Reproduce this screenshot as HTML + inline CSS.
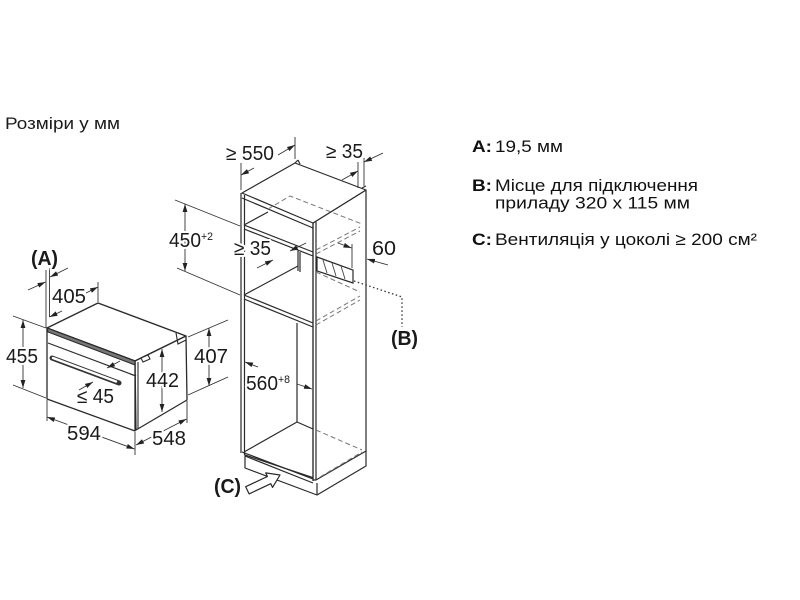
<!DOCTYPE html>
<html><head><meta charset="utf-8">
<style>
html,body{margin:0;padding:0;background:#fff;}
body{width:800px;height:600px;overflow:hidden;position:relative;}
svg{position:absolute;left:0;top:0;}
text{font-family:"Liberation Sans",Arial,sans-serif;fill:#1a1a1a;}
.d{font-size:20px;stroke:#fff;stroke-width:4px;paint-order:stroke;stroke-linejoin:round;}
.db{font-size:20px;font-weight:bold;stroke:#fff;stroke-width:4px;paint-order:stroke;stroke-linejoin:round;}
.sup{font-size:11px;stroke:#fff;stroke-width:3px;paint-order:stroke;}
.r{font-size:17px;fill:#111;}
.b{font-size:17px;font-weight:bold;fill:#111;}
</style></head><body>
<svg width="800" height="600" viewBox="0 0 800 600" xmlns="http://www.w3.org/2000/svg">
<defs>
<marker id="ar" viewBox="0 0 10 6" refX="10" refY="3" markerWidth="8" markerHeight="5" markerUnits="userSpaceOnUse" orient="auto-start-reverse"><path d="M0,0 L10,3 L0,6 z" fill="#222"/></marker>
</defs>

<!-- Title -->
<text x="5" y="129" style="font-size:17px" textLength="115" lengthAdjust="spacingAndGlyphs">Розміри у мм</text>

<!-- Right legend -->
<text class="b" x="472" y="152" textLength="20" lengthAdjust="spacingAndGlyphs">A:</text>
<text class="r" x="495" y="152" textLength="68" lengthAdjust="spacingAndGlyphs">19,5 мм</text>
<text class="b" x="472" y="191" textLength="20" lengthAdjust="spacingAndGlyphs">B:</text>
<text class="r" x="495" y="191" textLength="203" lengthAdjust="spacingAndGlyphs">Місце для підключення</text>
<text class="r" x="495" y="208.5" textLength="195" lengthAdjust="spacingAndGlyphs">приладу 320 x 115 мм</text>
<text class="b" x="472" y="245" textLength="20" lengthAdjust="spacingAndGlyphs">C:</text>
<text class="r" x="495" y="245" textLength="262" lengthAdjust="spacingAndGlyphs">Вентиляція у цоколі ≥ 200 см²</text>

<!-- ================= OVEN ================= -->
<g stroke="#2a2a2a" stroke-width="1.3" fill="#fff" stroke-linejoin="round">
  <polygon points="47,328 98,303 186,336 135,361"/>
  <polygon points="135,361 186,336 187,400 136,430"/>
  <polygon points="47,328 135,361 135,431 47,399"/>
</g>
<g stroke="#2a2a2a" stroke-width="1.1" fill="none">
  <polygon points="47,328 135,361 135,365 48,332" fill="#777"/>
  <line x1="48" y1="343" x2="136" y2="376"/>
  <line x1="138" y1="362" x2="138" y2="429"/>
  <polyline points="130,374 136,376"/>
  <polyline points="176,333 178,344 186,340"/>
  <polygon points="141,358 148,355 150,359 143,362" fill="#fff"/>
</g>
<line x1="52" y1="358" x2="119" y2="383" stroke="#333" stroke-width="5" stroke-linecap="round"/>
<line x1="53" y1="358" x2="116" y2="381.5" stroke="#fff" stroke-width="2.4" stroke-linecap="round"/>

<!-- Oven dimensions -->
<g stroke="#333" stroke-width="0.9" fill="none">
  <line x1="46" y1="270" x2="46" y2="328"/>
  <line x1="49.5" y1="268" x2="49.5" y2="317"/>
  <line x1="28" y1="290" x2="45.5" y2="282" marker-end="url(#ar)"/>
  <line x1="68" y1="268" x2="50" y2="277" marker-end="url(#ar)"/>
  <line x1="98" y1="282" x2="98" y2="302"/>
  <line x1="62" y1="311" x2="49.5" y2="317" marker-end="url(#ar)"/>
  <line x1="86" y1="293" x2="98" y2="287" marker-end="url(#ar)"/>
  <line x1="13" y1="316" x2="46" y2="328"/>
  <line x1="13" y1="385" x2="46" y2="398"/>
  <line x1="23" y1="320" x2="23" y2="388" marker-start="url(#ar)" marker-end="url(#ar)"/>
  <line x1="47" y1="400" x2="47" y2="421"/>
  <line x1="135" y1="432" x2="135" y2="455"/>
  <line x1="47" y1="417" x2="134.5" y2="449" marker-start="url(#ar)" marker-end="url(#ar)"/>
  <line x1="187" y1="401" x2="187" y2="423"/>
  <line x1="136" y1="445" x2="186.5" y2="419" marker-start="url(#ar)" marker-end="url(#ar)"/>
  <line x1="188" y1="337" x2="228" y2="320"/>
  <line x1="188" y1="395" x2="228" y2="377"/>
  <line x1="209" y1="328" x2="209" y2="386" marker-start="url(#ar)" marker-end="url(#ar)"/>
  <line x1="162" y1="349" x2="162" y2="412" marker-start="url(#ar)" marker-end="url(#ar)"/>
  <line x1="120" y1="361" x2="107" y2="368" marker-end="url(#ar)"/>
  <line x1="79" y1="390" x2="93" y2="382" marker-end="url(#ar)"/>
</g>
<text class="db" x="31" y="265" textLength="27" lengthAdjust="spacingAndGlyphs">(A)</text>
<text class="d" x="52" y="303" textLength="34" lengthAdjust="spacingAndGlyphs">405</text>
<text class="d" x="6" y="363" textLength="32" lengthAdjust="spacingAndGlyphs">455</text>
<text class="d" x="67" y="440" textLength="34" lengthAdjust="spacingAndGlyphs">594</text>
<text class="d" x="152" y="445" textLength="34" lengthAdjust="spacingAndGlyphs">548</text>
<text class="d" x="194" y="363" textLength="34" lengthAdjust="spacingAndGlyphs">407</text>
<text class="d" x="146" y="387" textLength="33" lengthAdjust="spacingAndGlyphs">442</text>
<text class="d" x="77" y="403" textLength="37" lengthAdjust="spacingAndGlyphs">≤ 45</text>

<!-- ================= CABINET ================= -->
<g stroke="#2a2a2a" stroke-width="1.2" fill="#fff" stroke-linejoin="round">
  <polygon points="245,455 245,468 317,495 366,466 366,450 317,479"/>
  <polygon points="313,223 366,190 366,451 316,480 313,480"/>
  <polygon points="242,193 295,163 366,190 313,223"/>
</g>
<g stroke="#2a2a2a" stroke-width="1.2" fill="none">
  <line x1="317" y1="483" x2="317" y2="495"/>
  <line x1="241" y1="193" x2="241" y2="453"/>
  <line x1="244.5" y1="195" x2="244.5" y2="455"/>
  <line x1="313" y1="223" x2="313" y2="481"/>
  <line x1="316" y1="222" x2="316" y2="480"/>
  <line x1="295" y1="163" x2="298" y2="160"/><line x1="298" y1="160" x2="300" y2="164"/>
  <line x1="362" y1="188" x2="366" y2="186"/>
  <line x1="242" y1="198" x2="313" y2="228"/>
  <line x1="244" y1="225" x2="313" y2="252"/>
  <line x1="244" y1="229" x2="313" y2="256"/>
  <line x1="244" y1="225" x2="268" y2="212"/>
  <line x1="298" y1="251" x2="298" y2="271"/>
  <line x1="300" y1="252" x2="300" y2="272"/>
  <line x1="244" y1="295" x2="313" y2="323"/>
  <line x1="244" y1="299" x2="313" y2="327"/>
  <line x1="244" y1="295" x2="298" y2="266"/>
  <line x1="297" y1="323" x2="297" y2="422"/>
  <line x1="244" y1="452" x2="297" y2="422"/>
  <line x1="297" y1="422" x2="313" y2="429"/>
  <line x1="242" y1="452" x2="313" y2="479"/>
  <line x1="245" y1="456" x2="313" y2="483"/>
</g>
<g stroke="#777" stroke-width="1" fill="none" stroke-dasharray="5,3">
  <polyline points="268,209 290,196 362,224"/>
  <line x1="316" y1="250" x2="360" y2="227"/>
  <line x1="316" y1="254" x2="360" y2="231"/>
  <line x1="316" y1="272" x2="360" y2="292"/>
  <line x1="316" y1="321" x2="360" y2="296"/>
  <line x1="316" y1="325" x2="360" y2="300"/>
  <line x1="316" y1="430" x2="362" y2="450"/>
  <line x1="320" y1="477" x2="362" y2="452"/>
</g>
<polygon points="317,257 353,270 353,283 317,271" fill="#fff" stroke="#2a2a2a" stroke-width="1.2"/>
<g stroke="#444" stroke-width="0.9">
  <line x1="323" y1="260" x2="327" y2="273"/>
  <line x1="332" y1="263" x2="336" y2="276"/>
  <line x1="341" y1="266" x2="345" y2="279"/>
</g>
<polyline points="354,281 402,297 402,327" fill="none" stroke="#333" stroke-width="1.3" stroke-dasharray="1.5,2.5"/>

<g stroke="#333" stroke-width="0.9" fill="none">
  <line x1="175" y1="200" x2="240" y2="226"/>
  <line x1="177" y1="268" x2="240" y2="295"/>
  <line x1="185" y1="204" x2="185" y2="271" marker-start="url(#ar)" marker-end="url(#ar)"/>
  <line x1="241" y1="163" x2="241" y2="190"/>
  <line x1="295" y1="137" x2="295" y2="159"/>
  <line x1="254" y1="168" x2="241" y2="175" marker-end="url(#ar)"/>
  <line x1="278" y1="155" x2="295" y2="145" marker-end="url(#ar)"/>
  <line x1="358" y1="162" x2="358" y2="188"/>
  <line x1="364" y1="158" x2="364" y2="186"/>
  <line x1="342" y1="180" x2="358" y2="171" marker-end="url(#ar)"/>
  <line x1="383" y1="153" x2="364" y2="162" marker-end="url(#ar)"/>
  <line x1="257" y1="268" x2="273" y2="260" marker-end="url(#ar)"/>
  <line x1="306" y1="243" x2="290" y2="251" marker-end="url(#ar)"/>
  <line x1="352" y1="244" x2="352" y2="268"/>
  <line x1="338" y1="243" x2="351.5" y2="248" marker-end="url(#ar)"/>
  <line x1="388" y1="265" x2="367" y2="259" marker-end="url(#ar)"/>
  <line x1="258" y1="367" x2="245" y2="362" marker-end="url(#ar)"/>
  <line x1="297" y1="384" x2="312" y2="389" marker-end="url(#ar)"/>
</g>
<polygon points="280,475 272.5,487.4 270.8,483.7 249.1,493.9 245.7,486.7 267.4,476.5 265.7,472.9" fill="#fff" stroke="#2a2a2a" stroke-width="1.2" stroke-linejoin="round"/>

<text class="d" x="169" y="247" textLength="32" lengthAdjust="spacingAndGlyphs">450</text>
<text class="sup" x="201" y="240" textLength="12" lengthAdjust="spacingAndGlyphs">+2</text>
<text class="d" x="226" y="160" textLength="48" lengthAdjust="spacingAndGlyphs">≥ 550</text>
<text class="d" x="326" y="158" textLength="37" lengthAdjust="spacingAndGlyphs">≥ 35</text>
<text class="d" x="234" y="255" textLength="37" lengthAdjust="spacingAndGlyphs">≥ 35</text>
<text class="d" x="372" y="255" textLength="24" lengthAdjust="spacingAndGlyphs">60</text>
<text class="d" x="246" y="390" textLength="32" lengthAdjust="spacingAndGlyphs">560</text>
<text class="sup" x="278" y="383" textLength="12" lengthAdjust="spacingAndGlyphs">+8</text>
<text class="db" x="391" y="345" textLength="27" lengthAdjust="spacingAndGlyphs">(B)</text>
<text class="db" x="214" y="493" textLength="27" lengthAdjust="spacingAndGlyphs">(C)</text>
</svg>
</body></html>
